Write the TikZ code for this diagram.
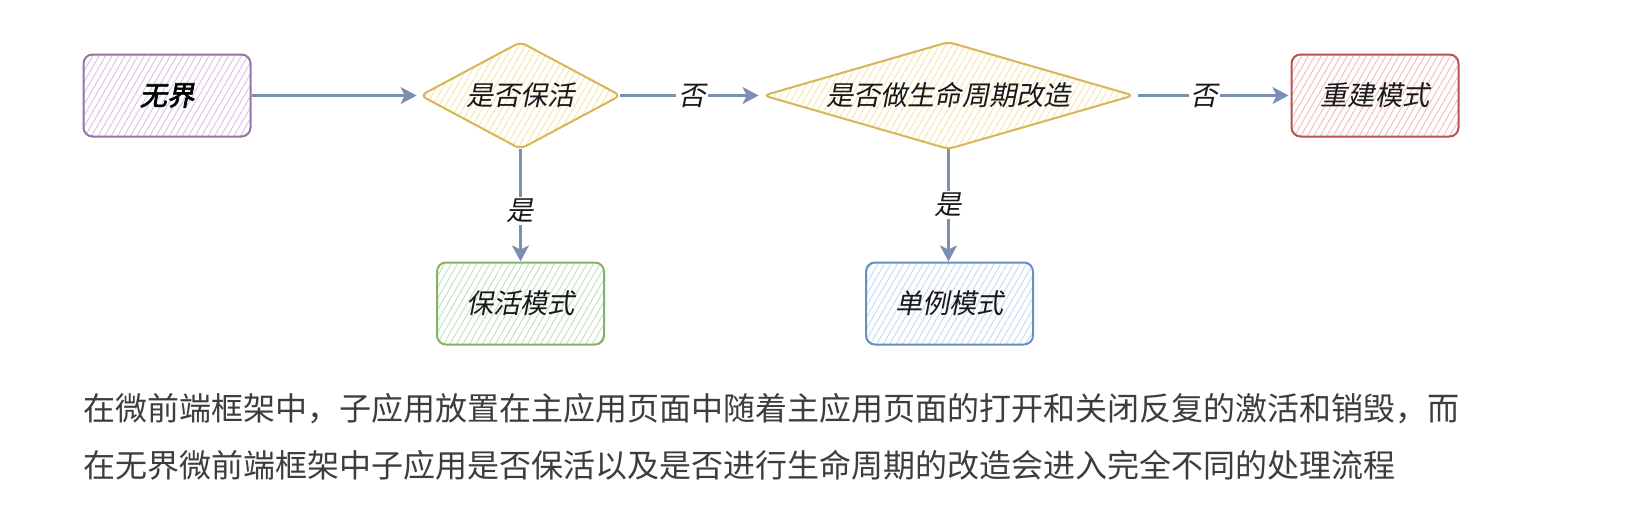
\documentclass[tikz,border=0pt]{standalone}
\usepackage{fontspec}
\usetikzlibrary{patterns.meta,arrows.meta}
\newfontfamily\cjk{Noto Sans CJK SC}
\newfontfamily\cjkit[FakeSlant=0.2]{Noto Sans CJK SC}
\newfontfamily\cjkbi[FakeSlant=0.2,FakeBold=2.5]{Noto Sans CJK SC}
\definecolor{purpS}{HTML}{9673A6}\definecolor{purpF}{HTML}{D9C6E2}
\definecolor{yelS}{HTML}{D6B656}\definecolor{yelF}{HTML}{F7E7B0}
\definecolor{redS}{HTML}{B85450}\definecolor{redF}{HTML}{F4BFBD}
\definecolor{grnS}{HTML}{82B366}\definecolor{grnF}{HTML}{C6E0C3}
\definecolor{bluS}{HTML}{6C8EBF}\definecolor{bluF}{HTML}{C9DCF7}
\definecolor{arrC}{HTML}{7B8FB0}
\definecolor{txtC}{HTML}{3D3D3D}
\tikzset{
  hatch/.style={pattern={Lines[angle=60,distance=2.8pt,line width=0.5pt]},pattern color=#1},
  boxnode/.style 2 args={draw=#1,hatch=#2,line width=1pt,rounded corners=4.5pt,
    minimum width=83.5pt,minimum height=41pt,inner sep=0pt,
    font=\cjkit\fontsize{13.6}{16}\selectfont,text=black!90},
  decnode/.style={inner sep=0pt,font=\cjkit\fontsize{13.6}{16}\selectfont,text=black!90},
  decshape/.style={draw=yelS,hatch=yelF,line width=1pt,rounded corners=3pt},
  conn/.style={draw=arrC,line width=1.1pt,-{Stealth[length=8pt,width=8.5pt,inset=2pt]}},
  lbl/.style={fill=white,inner sep=1pt,font=\cjkit\fontsize{13.6}{16}\selectfont,text=black!90},
  para/.style={anchor=west,inner sep=0pt,font=\cjk\fontsize{16}{19}\selectfont,text=txtC}
}
\begin{document}
\begin{tikzpicture}[x=0.5pt,y=-0.5pt]
\useasboundingbox (0,0) rectangle (1630,530);
\node[boxnode={purpS}{purpF},font=\cjkbi\fontsize{13.6}{16}\selectfont,text=black] (wj) at (167,95.5) {无界};
\node[decnode,minimum width=99.5pt,minimum height=53pt] (d1) at (520.5,95.5) {};
\node[decnode,minimum width=184.5pt,minimum height=53pt] (d2) at (948.5,95.5) {};
\path[decshape] (d1.west) -- (d1.north) -- (d1.east) -- (d1.south) -- cycle;
\path[decshape] (d2.west) -- (d2.north) -- (d2.east) -- (d2.south) -- cycle;
\node[decnode] (t1) at (d1.center) {是否保活};
\node[decnode] (t2) at (d2.center) {是否做生命周期改造};
\node[boxnode={redS}{redF}] (cj) at (1375,95.5) {重建模式};
\node[boxnode={grnS}{grnF}] (bh) at (520.5,303.5) {保活模式};
\node[boxnode={bluS}{bluF}] (dl) at (949.5,303.5) {单例模式};
\draw[conn,shorten >=2pt] (wj) -- (d1);
\draw[conn,shorten >=2.5pt] (d1) -- node[lbl]{否} (d2);
\draw[conn,shorten <=2.5pt,shorten >=1pt] (d2) -- node[lbl,pos=0.45]{否} (cj);
\draw[conn] (d1) -- node[lbl,pos=0.55]{是} (bh);
\draw[conn] (d2.south) -- node[lbl,pos=0.5]{是} (d2.south |- dl.north);
\node[para] (p1) at (83,408.5) {在微前端框架中，子应用放置在主应用页面中随着主应用页面的打开和关闭反复的激活和销毁，而};
\node[para] (p2) at (83,465) {在无界微前端框架中子应用是否保活以及是否进行生命周期的改造会进入完全不同的处理流程};
\end{tikzpicture}
\end{document}
